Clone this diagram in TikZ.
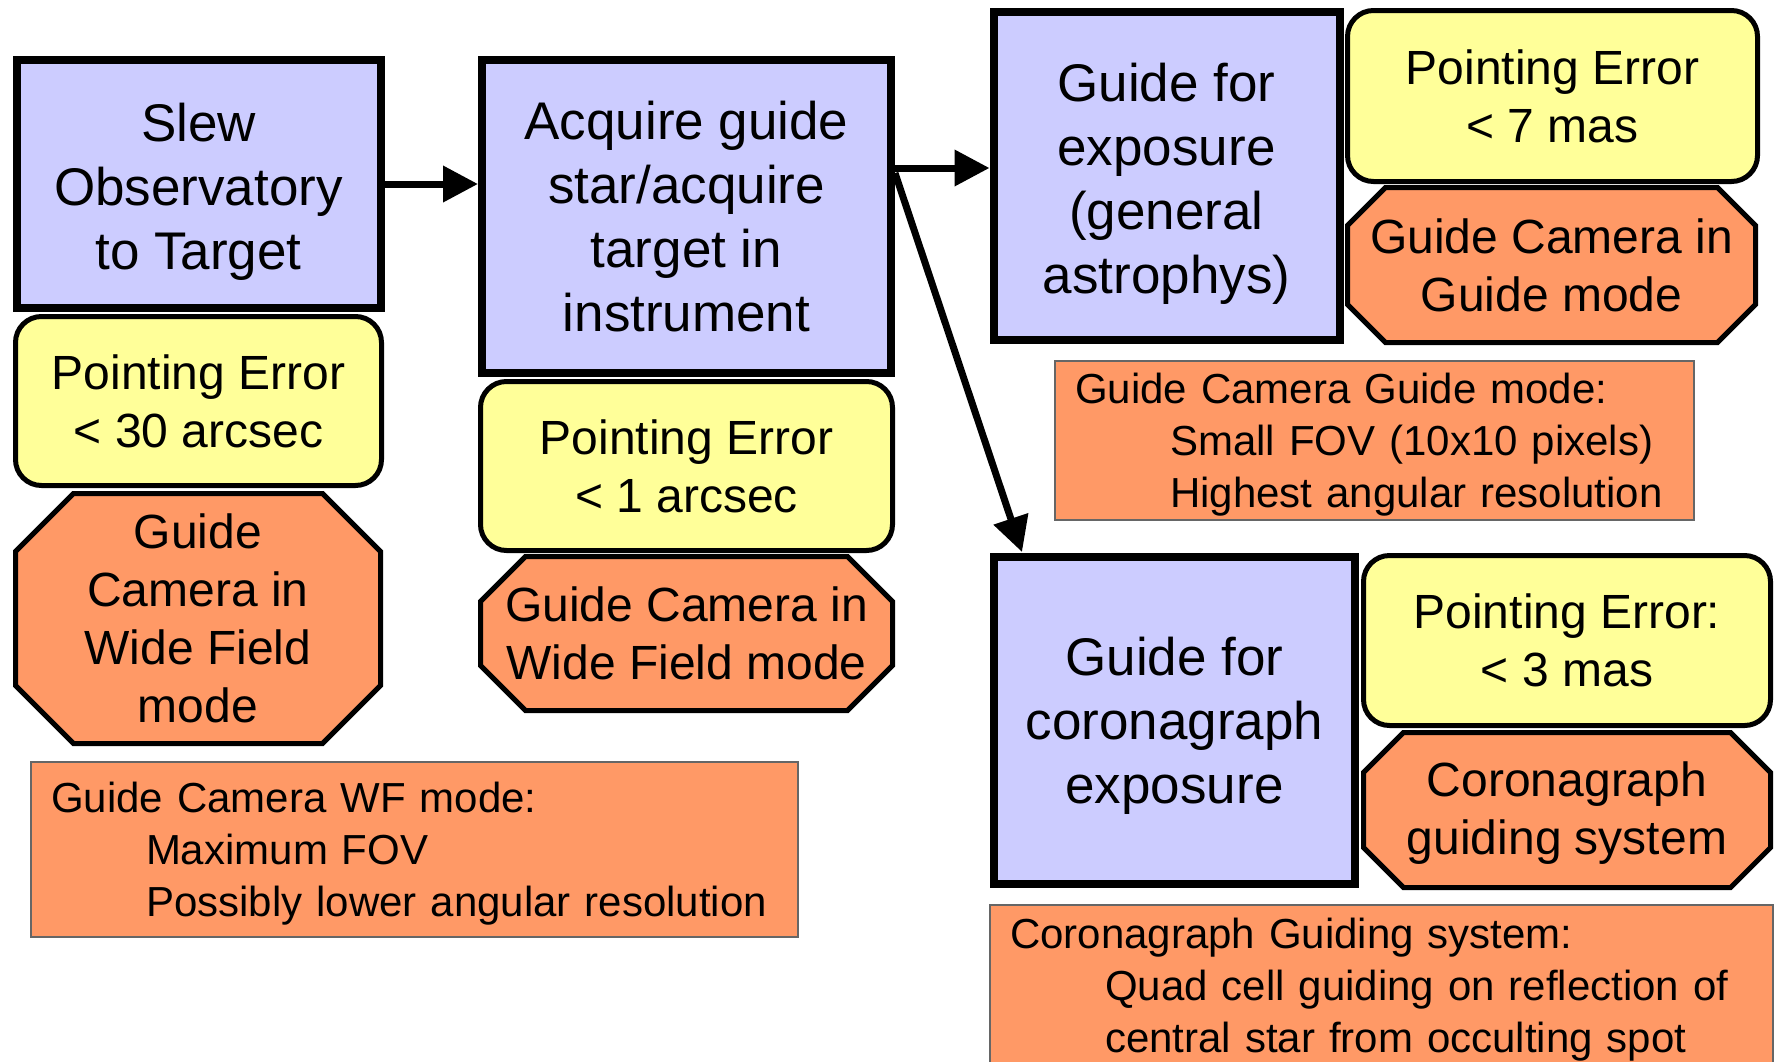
\documentclass[tikz,border=0pt]{standalone}
\usepackage{fontspec}
\setmainfont{Liberation Sans}
\usetikzlibrary{arrows.meta,calc,backgrounds}

\definecolor{procfill}{HTML}{CCCCFF}
\definecolor{errfill}{HTML}{FFFF99}
\definecolor{camfill}{HTML}{FF9966}

\tikzset{
  procbox/.style={draw=black, fill=procfill, line width=8pt, align=center,
    inner sep=0pt, font=\fontsize{53}{64}\selectfont},
  errbox/.style={draw=black, fill=errfill, line width=5pt, rounded corners=26pt,
    align=center, inner sep=0pt, font=\fontsize{48}{58}\selectfont},
  cambox/.style={rectangle, draw=none, outer sep=0pt, align=center, inner sep=0pt,
    font=\fontsize{48}{58}\selectfont},
  camline/.style={draw=black, fill=camfill, line width=5pt, line join=miter},
  notebox/.style={draw=black!60, fill=camfill, line width=1.5pt, align=left,
    inner xsep=20pt, inner ysep=0pt, text height=38pt,
    font=\fontsize{42}{52}\selectfont},
  flow/.style={line width=7pt, -{Triangle[length=35pt, width=35pt]}}
}

\newcommand{\ind}{\hspace*{95pt}}
% octagonal outline around a named node, with the given corner cut
\newcommand{\octagon}[2]{%
  \path[camline] ($(#1.north west)+(#2,0)$) -- ($(#1.north east)+(-#2,0)$)
    -- ($(#1.north east)+(0,#2)$) -- ($(#1.south east)+(0,-#2)$)
    -- ($(#1.south east)+(-#2,0)$) -- ($(#1.south west)+(#2,0)$)
    -- ($(#1.south west)+(0,-#2)$) -- ($(#1.north west)+(0,#2)$) -- cycle;}

\begin{document}
\begin{tikzpicture}[x=1pt, y=-1pt]
  \clip (0,0) rectangle (1780,1061);

  % column 1: slew
  \node[procbox, minimum width=364pt, minimum height=248pt] (slew) at (198.5,184)
    {\rule{0pt}{53pt}Slew\\Observatory\\to Target};
  \node[errbox, minimum width=366pt, minimum height=169pt] (err1) at (198.5,401)
    {Pointing Error\\< 30 arcsec};
  \node[cambox, minimum width=365pt, minimum height=250pt] (cam1) at (198,618.5)
    {Guide\\Camera in\\Wide Field\\mode};
  \node[notebox, text width=727pt, minimum height=175pt] (note1) at (414.5,849.5)
    {Guide Camera WF mode:\\\ind Maximum FOV\\\ind Possibly lower angular resolution};

  % column 2: acquisition
  \node[procbox, minimum width=409pt, minimum height=313pt] (acq) at (686.5,216.5)
    {Acquire guide\\star/acquire\\target in\\instrument};
  \node[errbox, minimum width=412pt, minimum height=169pt] (err2) at (686.5,466)
    {Pointing Error\\< 1 arcsec};
  \node[cambox, minimum width=412pt, minimum height=154pt] (cam2) at (686.5,633.5)
    {Guide Camera in\\Wide Field mode};

  % column 3, upper: general guiding
  \node[procbox, minimum width=346pt, minimum height=328pt] (gexp) at (1166.5,176)
    {\rule{0pt}{53pt}Guide for\\exposure\\(general\\astrophys)};
  \node[errbox, minimum width=410pt, minimum height=171pt] (err3) at (1552.5,96)
    {Pointing Error\\< 7 mas};
  \node[cambox, minimum width=408pt, minimum height=155pt] (cam3) at (1551.5,265)
    {Guide Camera in\\Guide mode};
  \node[notebox, text width=599pt, minimum height=159pt] (note3) at (1374.5,440.5)
    {Guide Camera Guide mode:\\\ind Small FOV (10x10 pixels)\\\ind Highest angular resolution};

  % column 3, lower: coronagraph guiding
  \node[procbox, minimum width=361pt, minimum height=327pt] (coro) at (1174.5,720.5)
    {\rule{0pt}{49pt}Guide for\\coronagraph\\exposure};
  \node[errbox, minimum width=407pt, minimum height=170pt] (err4) at (1567,640.5)
    {Pointing Error:\\< 3 mas};
  \node[cambox, minimum width=407pt, minimum height=155pt] (cam4) at (1567,810)
    {\rule{0pt}{41pt}Coronagraph\\guiding system};
  \node[notebox, text width=743pt, minimum height=162pt] (note4) at (1381.5,986)
    {Coronagraph Guiding system:\\\ind Quad cell guiding on reflection of\\\ind central star from occulting spot};

  % octagon outlines, behind their texts
  \begin{scope}[on background layer]
    \fill[white] (0,0) rectangle (1780,1061);
    \octagon{cam1}{58}
    \octagon{cam2}{45}
    \octagon{cam3}{38}
    \octagon{cam4}{40}
  \end{scope}

  % flow arrows
  \draw[flow] (slew.east) -- (slew.east -| acq.west);
  \coordinate (acqout) at ($(acq.north east)+(0,112)$);
  \draw[flow] (acqout) -- (acqout -| gexp.west);
  \coordinate (acqdown) at ($(acq.north east)+(0,117)$);
  \coordinate (coroin) at ($(coro.north west)+(32,-1)$);
  \draw[flow] (acqdown) -- (coroin);
\end{tikzpicture}
\end{document}
